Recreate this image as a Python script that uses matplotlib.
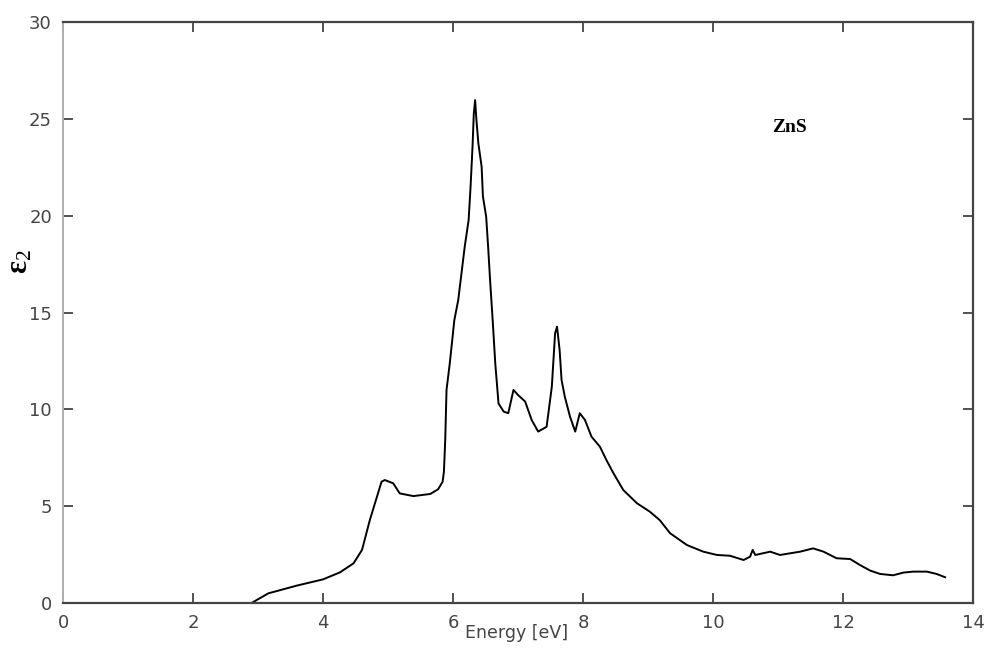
import matplotlib
matplotlib.use("Agg")
import matplotlib.pyplot as plt

# epsilon_2 spectrum of ZnS
energy = [
    2.90, 3.16, 3.60, 4.00, 4.26, 4.47, 4.60, 4.72, 4.83, 4.90, 4.95, 5.08, 5.18,
    5.39, 5.65, 5.77, 5.84, 5.86, 5.88, 5.90, 5.95, 6.02, 6.08, 6.13, 6.18, 6.24,
    6.27, 6.30, 6.32, 6.34, 6.36, 6.39, 6.44, 6.46, 6.51, 6.54, 6.57, 6.61, 6.65,
    6.70, 6.78, 6.85, 6.93, 7.00, 7.11, 7.21, 7.31, 7.44, 7.52, 7.57, 7.60, 7.64,
    7.67, 7.72, 7.80, 7.88, 7.95, 8.03, 8.13, 8.26, 8.36, 8.47, 8.62, 8.83, 9.03,
    9.18, 9.34, 9.60, 9.85, 10.06, 10.26, 10.47, 10.57, 10.61, 10.65, 10.88,
    11.03, 11.34, 11.54, 11.70, 11.90, 12.11, 12.26, 12.42, 12.57, 12.77, 12.93,
    13.08, 13.29, 13.44, 13.57,
]
eps2 = [
    0.0, 0.5, 0.9, 1.22, 1.58, 2.05, 2.74, 4.28, 5.49, 6.26, 6.35, 6.18, 5.66,
    5.52, 5.63, 5.87, 6.26, 6.78, 8.4, 11.0, 12.37, 14.6, 15.64, 17.02, 18.4, 19.77,
    21.5, 23.56, 25.28, 25.97, 24.94, 23.73, 22.53, 21.0, 19.94, 18.4, 16.68, 14.6,
    12.37, 10.3, 9.88, 9.8, 11.0, 10.74, 10.4, 9.45, 8.85, 9.1, 11.17, 13.92, 14.27,
    13.06, 11.51, 10.65, 9.62, 8.85, 9.8, 9.45, 8.59, 8.07, 7.38, 6.69, 5.83, 5.15,
    4.71, 4.28, 3.6, 2.99, 2.65, 2.48, 2.44, 2.22, 2.39, 2.74, 2.48, 2.65,
    2.48, 2.65, 2.82, 2.65, 2.31, 2.27, 1.96, 1.67, 1.50, 1.43, 1.57,
    1.62, 1.62, 1.50, 1.33,
]
x_ticks = [0, 2, 4, 6, 8, 10, 12, 14]
y_ticks = [0, 5, 10, 15, 20, 25, 30]

plt.rcParams["mathtext.fontset"] = "custom"
plt.rcParams["mathtext.bf"] = "Liberation Serif:bold"
plt.rcParams["mathtext.rm"] = "Liberation Serif"
plt.rcParams["mathtext.default"] = "bf"

fig = plt.figure(figsize=(9.94, 6.55), dpi=100)
ax = fig.add_axes([0.0634, 0.0794, 0.9155, 0.887])

ax.plot(energy, eps2, color="black", linewidth=1.4)

ax.set_xlim(0, 14)
ax.set_ylim(0, 30)
ax.set_xticks(x_ticks)
ax.set_yticks(y_ticks)
ax.tick_params(direction="in", length=7, width=1.2, color="#333333",
               top=True, right=True, labelsize=13, labelcolor="#444444", pad=8)

for side in ["top", "right", "bottom"]:
    ax.spines[side].set_color("#444444")
    ax.spines[side].set_linewidth(1.6)
ax.spines["left"].set_color("#b0b0b0")
ax.spines["left"].set_linewidth(1.4)

ax.text(10.91, 24.57, "ZnS", fontfamily="Liberation Serif", fontweight="bold",
        fontsize=14, ha="left", va="center")

fig.text(20 / 994, 1 - 262 / 655, r"$\varepsilon_{\mathrm{2}}$", rotation=90,
         fontsize=22, ha="center", va="center")

fig.text(517 / 994, 1 - 633 / 655, "Energy [eV]", fontsize=12.5,
         color="#444444", ha="center", va="center")

fig.savefig("out.png", dpi=100)
